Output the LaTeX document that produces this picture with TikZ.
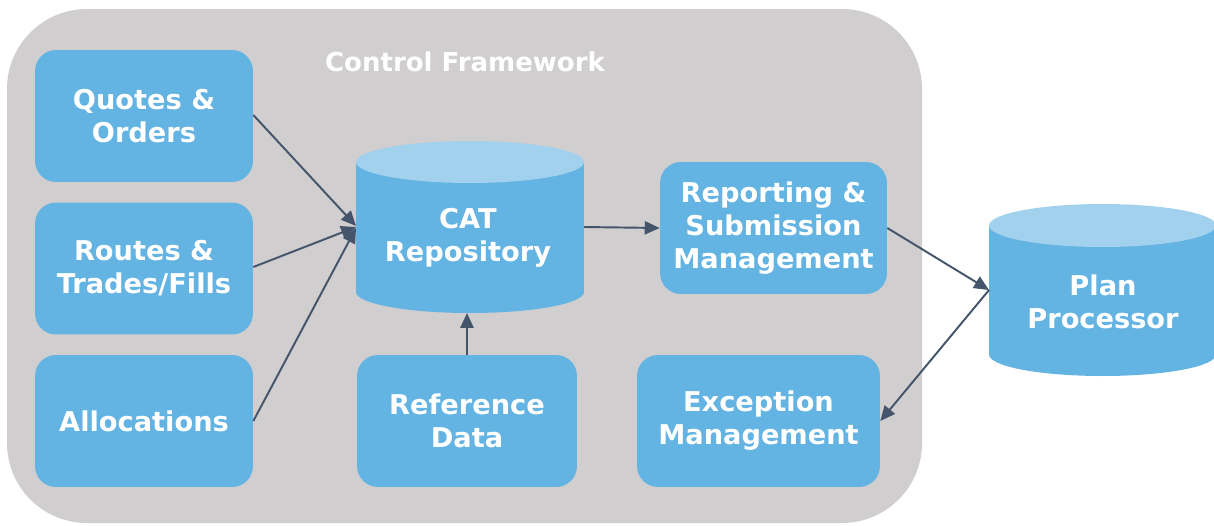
\documentclass[tikz,border=0pt]{standalone}
\usepackage{fontspec}
\setmainfont{DejaVu Sans}
\usetikzlibrary{arrows.meta}
\definecolor{bg}{HTML}{D0CECF}
\definecolor{boxblue}{HTML}{63B3E3}
\definecolor{topblue}{HTML}{A2D1EE}
\definecolor{arr}{HTML}{44546A}
\begin{document}
\begin{tikzpicture}[x=0.02cm,y=-0.02cm,
  lbl/.style={text=white, font=\bfseries\fontsize{15.5}{18.8}\selectfont, align=center, inner sep=0pt},
  box/.style={fill=boxblue, rounded corners=0.42cm, inner sep=0pt, minimum height=2.64cm, lbl},
  holder/.style={inner sep=0pt, outer sep=0pt},
  conn/.style={draw=arr, line width=1.1pt, -{Triangle[length=8.5pt,width=7.5pt]}}]
\useasboundingbox (0,0) rectangle (1214,525);
% background frame
\fill[bg, rounded corners=1.6cm] (7,9) rectangle (922,523);
\node[lbl, font=\bfseries\fontsize{14.8}{18}\selectfont] (title) at (465,62) {Control Framework};
% boxes
\node[box, minimum width=4.36cm] (quotes) at (144,116) {Quotes \&\\Orders};
\node[box, minimum width=4.36cm] (routes) at (144,268.5) {Routes \&\\Trades/Fills};
\node[box, minimum width=4.36cm] (alloc) at (144,421) {Allocations};
\node[box, minimum width=4.40cm] (ref) at (467,421) {Reference\\Data};
\node[box, minimum width=4.54cm] (rep) at (773.5,228) {Reporting \&\\Submission\\Management};
\node[box, minimum width=4.86cm] (exc) at (758.5,421) {Exception\\Management};
% CAT cylinder
\fill[boxblue] (470,292) ellipse [x radius=2.28cm, y radius=0.42cm];
\fill[boxblue] (356,162) rectangle (584,292);
\fill[topblue] (470,162) ellipse [x radius=2.28cm, y radius=0.42cm];
\node[holder, minimum width=4.56cm, minimum height=3.44cm] (cat) at (470,227) {};
\node[lbl] (cattext) at (468,238) {CAT\\Repository};
% Plan cylinder
\fill[boxblue] (1102.5,354.5) ellipse [x radius=2.27cm, y radius=0.43cm];
\fill[boxblue] (989,225.5) rectangle (1216,354.5);
\fill[topblue] (1102.5,225.5) ellipse [x radius=2.27cm, y radius=0.43cm];
\node[holder, minimum width=4.54cm, minimum height=3.44cm] (plan) at (1102.5,290) {};
\node[lbl] (plantext) at (1103,302) {Plan\\Processor};
% connectors
\draw[conn] (quotes.east |- 0,115) -- ([yshift=0.02cm]cat.west);
\draw[conn] (routes.east |- 0,267) -- (cat.west);
\draw[conn] (alloc.east) -- ([yshift=-0.02cm]cat.west);
\draw[conn] (cat.east) -- (rep.west);
\draw[conn] (ref.north) -- (ref.north |- cat.south);
\draw[conn] (rep.east) -- (plan.west);
\draw[conn] (plan.west) -- (exc.east);
\end{tikzpicture}
\end{document}
